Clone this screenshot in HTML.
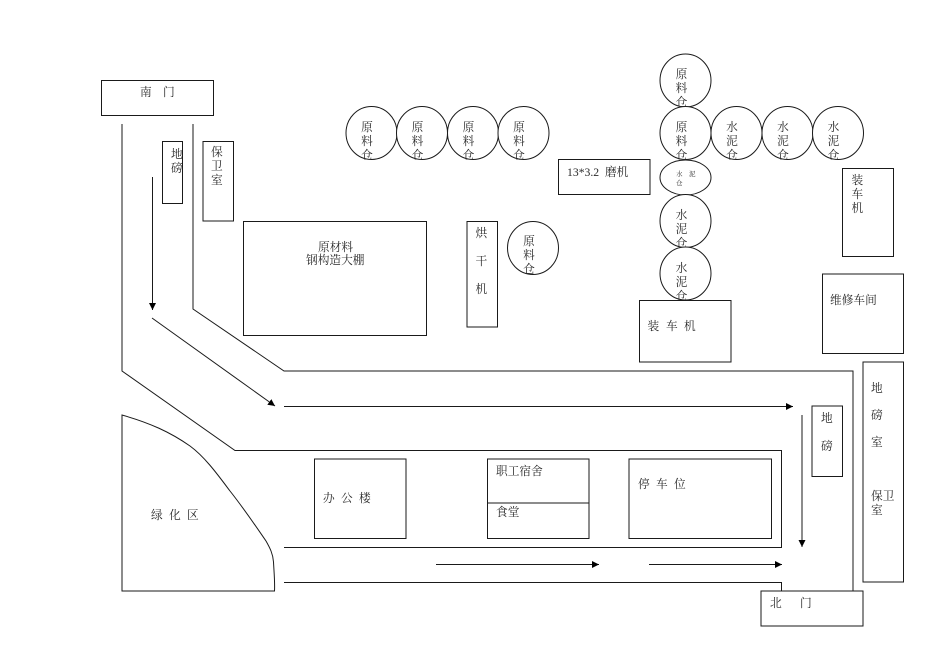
<!DOCTYPE html>
<html><head><meta charset="utf-8"><style>
html,body{margin:0;padding:0;background:#fff}
svg{display:block}
text{font-family:"Liberation Serif","Noto Serif CJK SC",serif;font-size:11.7px;fill:#2a2a2a}
.s{fill:#fff;stroke:#1a1a1a;stroke-width:1}
.l{fill:none;stroke:#1a1a1a;stroke-width:1}
</style></head><body>
<svg width="950" height="672" viewBox="0 0 950 672" xmlns="http://www.w3.org/2000/svg">
<defs>
<marker id="a" markerWidth="8" markerHeight="8" refX="7" refY="3.5" orient="auto" markerUnits="userSpaceOnUse"><path d="M0,0L7,3.5L0,7z" fill="#000"/></marker>
<clipPath id="c1"><rect x="340" y="100" width="220" height="59.5"/></clipPath>
<clipPath id="c2"><rect x="500" y="215" width="70" height="59"/></clipPath>
<clipPath id="c3"><rect x="650" y="50" width="70" height="56.5"/></clipPath>
<clipPath id="c4"><rect x="650" y="107" width="220" height="52.5"/></clipPath>
<clipPath id="c5"><rect x="650" y="196" width="70" height="51"/></clipPath>
<clipPath id="c6"><rect x="650" y="248" width="70" height="52"/></clipPath>
</defs>

<!-- roads -->
<path class="l" d="M122,124V371L235,450.5H781.5V547.5H284"/>
<path class="l" d="M193,124V309L284,371H853V591"/>
<path class="l" d="M284,582.5H781.5V591"/>

<!-- arrows -->
<path class="l" marker-end="url(#a)" d="M152.5,177V310"/>
<path class="l" marker-end="url(#a)" d="M152,318L275,406"/>
<path class="l" marker-end="url(#a)" d="M284,406.5H793"/>
<path class="l" marker-end="url(#a)" d="M802,415V547"/>
<path class="l" marker-end="url(#a)" d="M436,564.5H599"/>
<path class="l" marker-end="url(#a)" d="M649,564.5H782"/>

<!-- rectangles -->
<rect class="s" x="101.5" y="80.5" width="112" height="35"/>
<rect class="s" x="162.5" y="141.5" width="20" height="62"/>
<rect class="s" x="203" y="141.5" width="30.5" height="79.5"/>
<rect class="s" x="243.5" y="221.5" width="183" height="114"/>
<rect class="s" x="467" y="221.5" width="30.5" height="105.5"/>
<rect class="s" x="558.5" y="159.5" width="91.5" height="35"/>
<rect class="s" x="842.5" y="168.5" width="51" height="88"/>
<rect class="s" x="822.5" y="274" width="81" height="79.5"/>
<rect class="s" x="863" y="362" width="40.5" height="220"/>
<rect class="s" x="812" y="406" width="30.5" height="70.5"/>
<rect class="s" x="314.5" y="459" width="91.5" height="79.5"/>
<rect class="s" x="487.5" y="459" width="101.5" height="79.5"/>
<path class="l" d="M487.5,503H589"/>
<rect class="s" x="629" y="459" width="142.5" height="79.5"/>
<rect class="s" x="761" y="591" width="102" height="35"/>

<!-- green area -->
<path class="s" d="M122,415C150,423 170,432 190,446C205,457 218,475 230,491C245,510 257,528 266,541C270,548 273,554 273.5,562C274,572 275,582 274.5,591H122Z"/>

<!-- circles -->
<ellipse class="s" cx="371.5" cy="133" rx="25.5" ry="26.5"/>
<ellipse class="s" cx="422" cy="133" rx="25.5" ry="26.5"/>
<ellipse class="s" cx="473" cy="133" rx="25.5" ry="26.5"/>
<ellipse class="s" cx="523.5" cy="133" rx="25.5" ry="26.5"/>
<ellipse class="s" cx="533" cy="248" rx="25.5" ry="26.5"/>
<ellipse class="s" cx="685.5" cy="80.5" rx="25.5" ry="26.5"/>
<ellipse class="s" cx="685.5" cy="133" rx="25.5" ry="26.5"/>
<ellipse class="s" cx="736.5" cy="133" rx="25.5" ry="26.5"/>
<ellipse class="s" cx="787.5" cy="133" rx="25.5" ry="26.5"/>
<ellipse class="s" cx="838" cy="133" rx="25.5" ry="26.5"/>
<ellipse class="s" cx="685.5" cy="177.5" rx="25.5" ry="17.5"/>
<ellipse class="s" cx="685.5" cy="221" rx="25.5" ry="26.5"/>
<ellipse class="s" cx="685.5" cy="273.5" rx="25.5" ry="26.5"/>

<!-- loader box, drawn over the last silo -->
<rect class="s" x="639.5" y="300.5" width="91.5" height="61.5"/>

<!-- silo labels -->
<g clip-path="url(#c1)" text-anchor="middle">
<text x="367" y="131">原</text><text x="367" y="145">料</text><text x="367" y="159">仓</text>
<text x="417.5" y="131">原</text><text x="417.5" y="145">料</text><text x="417.5" y="159">仓</text>
<text x="468.5" y="131">原</text><text x="468.5" y="145">料</text><text x="468.5" y="159">仓</text>
<text x="519" y="131">原</text><text x="519" y="145">料</text><text x="519" y="159">仓</text>
</g>
<g clip-path="url(#c2)" text-anchor="middle">
<text x="529" y="245">原</text><text x="529" y="259">料</text><text x="529" y="273">仓</text>
</g>
<g clip-path="url(#c3)" text-anchor="middle">
<text x="681.5" y="78">原</text><text x="681.5" y="92">料</text><text x="681.5" y="106">仓</text>
</g>
<g clip-path="url(#c4)" text-anchor="middle">
<text x="681.5" y="131">原</text><text x="681.5" y="145">料</text><text x="681.5" y="159">仓</text>
<text x="732" y="131">水</text><text x="732" y="145">泥</text><text x="732" y="159">仓</text>
<text x="783" y="131">水</text><text x="783" y="145">泥</text><text x="783" y="159">仓</text>
<text x="833.5" y="131">水</text><text x="833.5" y="145">泥</text><text x="833.5" y="159">仓</text>
</g>
<g clip-path="url(#c5)" text-anchor="middle">
<text x="681.5" y="219">水</text><text x="681.5" y="233">泥</text><text x="681.5" y="247">仓</text>
</g>
<g clip-path="url(#c6)" text-anchor="middle">
<text x="681.5" y="272">水</text><text x="681.5" y="286">泥</text><text x="681.5" y="300">仓</text>
</g>
<text x="676" y="176" style="font-size:6.5px">水</text>
<text x="689" y="176" style="font-size:6.5px">泥</text>
<text x="676" y="185" style="font-size:6.5px">仓</text>

<!-- labels -->
<text x="140" y="96">南</text><text x="163" y="96">门</text>
<text x="171" y="158">地</text><text x="171" y="172">磅</text>
<text x="211" y="156">保</text><text x="211" y="170">卫</text><text x="211" y="184">室</text>
<text x="318" y="251">原材料</text>
<text x="306" y="264">钢构造大棚</text>
<text x="475.5" y="237">烘</text><text x="475.5" y="265">干</text><text x="475.5" y="293">机</text>
<text x="567" y="176">13*3.2&#160;&#160;磨机</text>
<text x="851.5" y="184">装</text><text x="851.5" y="198">车</text><text x="851.5" y="212">机</text>
<text x="830" y="304">维修车间</text>
<text x="647.5" y="330">装</text><text x="666" y="330">车</text><text x="684" y="330">机</text>
<text x="871" y="392">地</text><text x="871" y="419">磅</text><text x="871" y="446">室</text>
<text x="871" y="500">保卫</text><text x="871" y="514">室</text>
<text x="821" y="422">地</text><text x="821" y="450">磅</text>
<text x="151" y="519">绿</text><text x="169" y="519">化</text><text x="187" y="519">区</text>
<text x="323" y="502">办</text><text x="341" y="502">公</text><text x="359" y="502">楼</text>
<text x="496" y="475">职工宿舍</text>
<text x="496" y="516">食堂</text>
<text x="638" y="488">停</text><text x="656" y="488">车</text><text x="674" y="488">位</text>
<text x="770" y="607">北</text><text x="800" y="607">门</text>
</svg>
</body></html>
